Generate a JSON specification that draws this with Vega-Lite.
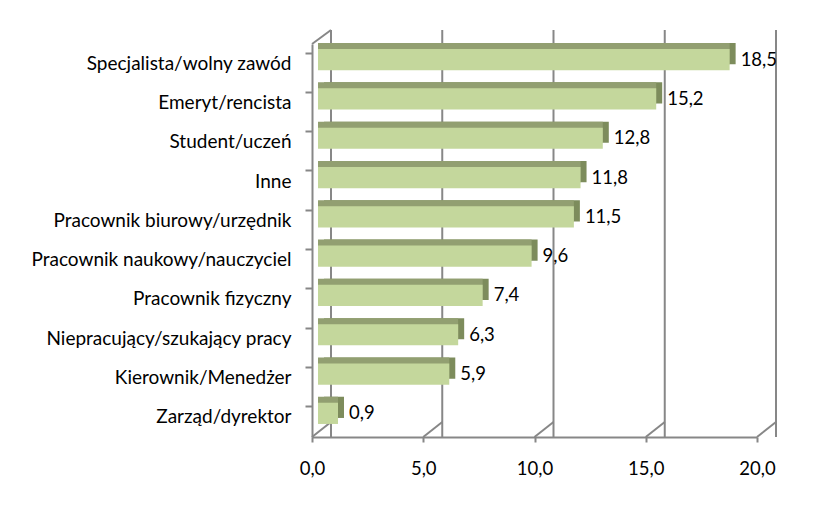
{
  "$schema": "https://vega.github.io/schema/vega-lite/v6.json",
  "autosize": "none",
  "width": 445,
  "height": 393,
  "padding": {"left": 312, "top": 44, "right": 67, "bottom": 71},
  "background": "#ffffff",
  "config": {
    "view": {"stroke": null},
    "font": "Lato",
    "locale": {"number": {"decimal": ",", "thousands": " ", "grouping": [3], "currency": ["", " zł"]}}
  },
  "datasets": {
    "bars": [
      {"kategoria": "Specjalista/wolny zawód", "wartosc": 18.5},
      {"kategoria": "Emeryt/rencista", "wartosc": 15.2},
      {"kategoria": "Student/uczeń", "wartosc": 12.8},
      {"kategoria": "Inne", "wartosc": 11.8},
      {"kategoria": "Pracownik biurowy/urzędnik", "wartosc": 11.5},
      {"kategoria": "Pracownik naukowy/nauczyciel", "wartosc": 9.6},
      {"kategoria": "Pracownik fizyczny", "wartosc": 7.4},
      {"kategoria": "Niepracujący/szukający pracy", "wartosc": 6.3},
      {"kategoria": "Kierownik/Menedżer", "wartosc": 5.9},
      {"kategoria": "Zarząd/dyrektor", "wartosc": 0.9}
    ],
    "grid": [{"wartosc": 0}, {"wartosc": 5}, {"wartosc": 10}, {"wartosc": 15}, {"wartosc": 20}]
  },
  "layer": [
    {
      "data": {"name": "grid"},
      "mark": {"type": "rule", "color": "#878787", "strokeWidth": 2, "xOffset": 19, "yOffset": -14, "y2Offset": -15},
      "encoding": {
        "x": {
          "field": "wartosc", "type": "quantitative",
          "scale": {"domain": [0, 20], "nice": false, "zero": true},
          "axis": {
            "title": null, "values": [0, 5, 10, 15, 20], "format": ".1f", "grid": false,
            "domainColor": "#878787", "domainWidth": 2, "tickColor": "#878787", "tickWidth": 2, "tickSize": 5,
            "labelPadding": 17, "labelFontSize": 18.5, "labelColor": "#000000", "labelFont": "Lato",
            "labelOverlap": false, "labelFlush": false
          }
        }
      }
    },
    {
      "data": {"name": "grid"},
      "mark": {"type": "rule", "color": "#878787", "strokeWidth": 2, "x2Offset": 19, "y2Offset": -15},
      "encoding": {
        "x": {"field": "wartosc", "type": "quantitative", "scale": {"domain": [0, 20], "nice": false, "zero": true}},
        "x2": {"field": "wartosc"},
        "y": {"value": "height"},
        "y2": {"value": "height"}
      }
    },
    {
      "data": {"values": [{}]},
      "mark": {"type": "rule", "color": "#878787", "strokeWidth": 2, "x2Offset": 19, "y2Offset": -14},
      "encoding": {
        "x": {"datum": 0, "type": "quantitative", "scale": {"domain": [0, 20], "nice": false, "zero": true}},
        "x2": {"datum": 0},
        "y": {"value": 0},
        "y2": {"value": 0}
      }
    },
    {
      "data": {"name": "bars"},
      "mark": {"type": "bar", "color": "#7d8c5c", "xOffset": 12, "x2Offset": 12, "yOffset": -10, "y2Offset": -10},
      "encoding": {
        "y": {
          "field": "kategoria", "type": "nominal", "sort": null,
          "scale": {"paddingInner": 0.46, "paddingOuter": 0.23},
          "axis": {
            "title": null, "bandPosition": 0, "grid": false, "domainColor": "#878787", "domainWidth": 2,
            "tickColor": "#878787", "tickWidth": 2, "tickSize": 7, "labelPadding": 14,
            "labelFontSize": 19, "labelColor": "#000000", "labelLimit": 400, "labelFont": "Lato"
          }
        },
        "x": {"field": "wartosc", "type": "quantitative", "scale": {"domain": [0, 20], "nice": false, "zero": true}}
      }
    },
    {
      "data": {"name": "bars"},
      "mark": {"type": "bar", "color": "#929f71", "xOffset": 6, "x2Offset": 12, "yOffset": -10, "y2Offset": -10},
      "encoding": {
        "y": {"field": "kategoria", "type": "nominal", "sort": null},
        "x": {"field": "wartosc", "type": "quantitative", "scale": {"domain": [0, 20], "nice": false, "zero": true}}
      }
    },
    {
      "data": {"name": "bars"},
      "mark": {"type": "bar", "color": "#c4d79c", "xOffset": 6, "x2Offset": 6, "yOffset": -4, "y2Offset": -4},
      "encoding": {
        "y": {"field": "kategoria", "type": "nominal", "sort": null},
        "x": {"field": "wartosc", "type": "quantitative", "scale": {"domain": [0, 20], "nice": false, "zero": true}}
      }
    },
    {
      "data": {"name": "bars"},
      "mark": {"type": "text", "align": "left", "baseline": "middle", "dx": 17, "yOffset": -4, "fontSize": 18.5, "font": "Lato", "color": "#000000"},
      "encoding": {
        "y": {"field": "kategoria", "type": "nominal", "sort": null},
        "x": {"field": "wartosc", "type": "quantitative", "scale": {"domain": [0, 20], "nice": false, "zero": true}},
        "text": {"field": "wartosc", "type": "quantitative", "format": ".1f"}
      }
    }
  ]
}
